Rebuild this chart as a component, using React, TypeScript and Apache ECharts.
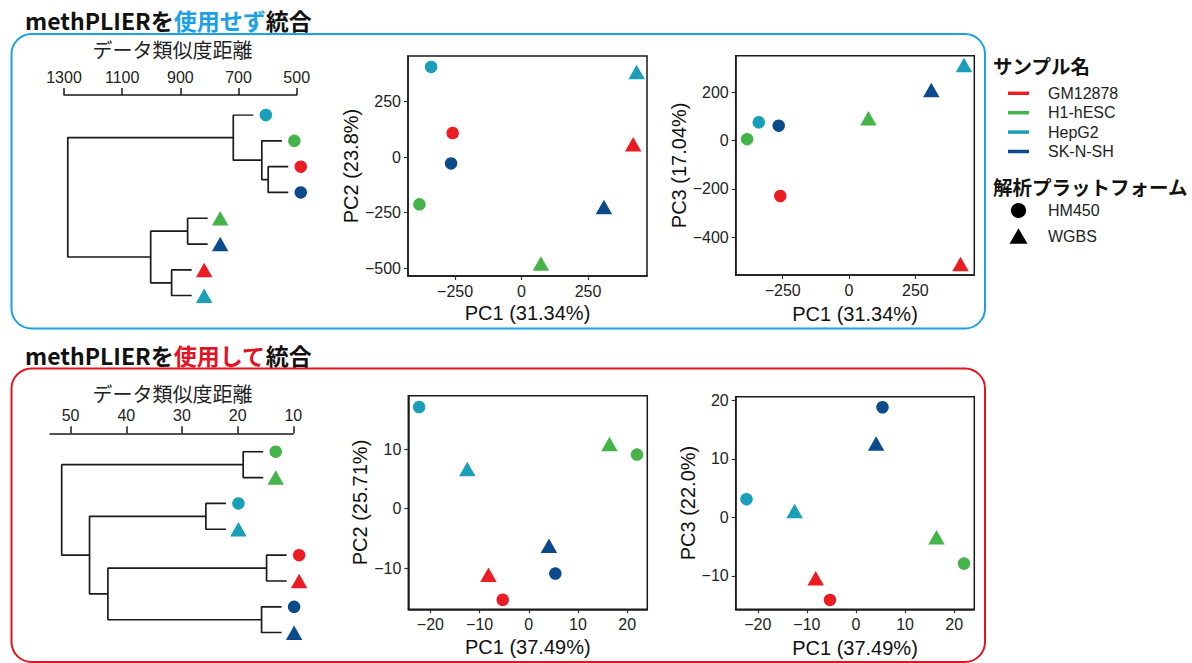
import React, { useEffect, useRef } from 'react';
import * as echarts from 'echarts';

// ---------- data ----------
const CELLS = ['GM12878', 'H1-hESC', 'HepG2', 'SK-N-SH'];
const CELL_COLORS = ['#ec1c24', '#44b449', '#1a9fb8', '#0b4a8b'];
const PLATFORMS = ['HM450', 'WGBS'];
// samples: GM-HM450, GM-WGBS, H1-HM450, H1-WGBS, HepG2-HM450, HepG2-WGBS, SK-HM450, SK-WGBS
const SAMPLE_CELL = [0, 0, 1, 1, 2, 2, 3, 3];
const SAMPLE_PLATFORM = [0, 1, 0, 1, 0, 1, 0, 1];

// without methPLIER
const RAW_PC1 = [-259, 420, -384, 73, -340, 433, -265, 310];
const RAW_PC2 = [109, 59, -212, -479, 407, 384, -28, -224];
const RAW_PC3 = [-229, -510, 6, 93, 76, 313, 62, 210];
const RAW_PC_NAMES = ['PC1 (31.34%)', 'PC2 (23.8%)', 'PC3 (17.04%)'];
const RAW_PC1_RANGE = [-427, 472];
const RAW_PC2_RANGE = [-535, 456];
const RAW_PC3_RANGE = [-556, 351.5];
const RAW_PC1_TICKS = [-250, 0, 250];
const RAW_PC2_TICKS = [-500, -250, 0, 250];
const RAW_PC3_TICKS = [-400, -200, 0, 200];
const RAW_LEAF_ORDER = [4, 2, 0, 6, 3, 7, 1, 5];
const RAW_MERGE = [[-1, -7], [-3, 1], [-5, 2], [-4, -8], [-2, -6], [4, 5], [3, 6]];
const RAW_HEIGHT = [598, 620, 718, 875, 930, 1002, 1287];
const RAW_HANG = 69;
const RAW_DIST_RANGE = [500, 1300];
const RAW_DIST_TICKS = [500, 700, 900, 1100, 1300];

// with methPLIER
const PLIER_PC1 = [-5.3, -8.2, 22.0, 16.4, -22.3, -12.5, 5.4, 4.1];
const PLIER_PC2 = [-15.3, -11.1, 9.1, 10.9, 17.1, 6.7, -10.9, -6.2];
const PLIER_PC3 = [-14.1, -10.4, -7.9, -3.4, 3.1, 1.1, 18.8, 12.6];
const PLIER_PC_NAMES = ['PC1 (37.49%)', 'PC2 (25.71%)', 'PC3 (22.0%)'];
const PLIER_PC1_RANGE = [-24.5, 24.1];
const PLIER_PC2_RANGE = [-16.9, 19.0];
const PLIER_PC3_RANGE = [-15.7, 20.6];
const PLIER_PC1_TICKS = [-20, -10, 0, 10, 20];
const PLIER_PC2_TICKS = [-10, 0, 10];
const PLIER_PC3_TICKS = [-10, 0, 10, 20];
const PLIER_LEAF_ORDER = [2, 3, 4, 5, 0, 1, 6, 7];
const PLIER_MERGE = [[-3, -4], [-5, -6], [-1, -2], [-7, -8], [3, 4], [2, 5], [1, 6]];
const PLIER_HEIGHT = [19.0, 25.7, 14.8, 15.7, 43.3, 46.6, 51.6];
const PLIER_HANG = 3.6;
const PLIER_DIST_RANGE = [10, 53.7];
const PLIER_DIST_TICKS = [10, 20, 30, 40, 50];

const TITLES = [
  ['methPLIERを', '使用せず', '統合'],
  ['methPLIERを', '使用して', '統合'],
];
const DIST_TITLE = 'データ類似度距離';
const LEGEND_CELL_TITLE = 'サンプル名';
const LEGEND_PLATFORM_TITLE = '解析プラットフォーム';

// ---------- styles ----------
const BLUE = '#1ba1e4';
const RED = '#e3131f';
const INK = '#1a1a1a';
const FONT = "'Liberation Sans', Arial, sans-serif";
const JP = "'Noto Sans CJK JP', 'Noto Sans', sans-serif";
const SYMBOLS = ['circle', 'triangle'];
const SYMBOL_SIZES: any[] = [12.5, [16.5, 14.5]];

const fmt = (v: number) => String(v).replace('-', '\u2212');

function scatterData(xs: number[], ys: number[]) {
  return xs.map((x, i) => ({
    value: [x, ys[i]],
    symbol: SYMBOLS[SAMPLE_PLATFORM[i]],
    symbolSize: SYMBOL_SIZES[SAMPLE_PLATFORM[i]],
    itemStyle: { color: CELL_COLORS[SAMPLE_CELL[i]], opacity: 1 },
  }));
}

function buildDendro(order: number[], merge: number[][], heights: number[], hang: number) {
  const nodes: { y: number; h: number }[] = [];
  const segs: number[][][] = [];
  const leaves: { s: number; h: number; y: number }[] = [];
  merge.forEach(([a, b], k) => {
    const h = heights[k];
    const info = (ref: number) => {
      if (ref < 0) {
        const s = -ref - 1;
        const y = order.indexOf(s);
        leaves.push({ s, h: h - hang, y });
        return { y, h: h - hang };
      }
      return nodes[ref - 1];
    };
    const A = info(a);
    const B = info(b);
    segs.push([[A.h, A.y], [h, A.y], [h, B.y], [B.h, B.y]]);
    nodes.push({ y: (A.y + B.y) / 2, h });
  });
  return { segs, leaves };
}

function dendroSeries(d: ReturnType<typeof buildDendro>, axisIndex: number) {
  const out: any[] = d.segs.map((seg) => ({
    type: 'line',
    xAxisIndex: axisIndex,
    yAxisIndex: axisIndex,
    data: seg,
    symbol: 'none',
    silent: true,
    lineStyle: { color: INK, width: 1.7 },
  }));
  out.push({
    type: 'scatter',
    xAxisIndex: axisIndex,
    yAxisIndex: axisIndex,
    symbolOffset: [12.5, 0],
    silent: true,
    data: d.leaves.map((l) => ({
      value: [l.h, l.y],
      symbol: SYMBOLS[SAMPLE_PLATFORM[l.s]],
      symbolSize: SYMBOL_SIZES[SAMPLE_PLATFORM[l.s]],
      itemStyle: { color: CELL_COLORS[SAMPLE_CELL[l.s]], opacity: 1 },
    })),
  });
  return out;
}

function dendroX(gridIndex: number, range: number[], ticks: number[], offset: number) {
  return {
    type: 'value', gridIndex, min: range[0], max: range[1], inverse: true, position: 'top', offset,
    axisLine: { show: true, onZero: false, lineStyle: { color: INK, width: 1.5 } },
    axisTick: { show: true, inside: false, length: 7, customValues: ticks, lineStyle: { color: INK, width: 1.5 } },
    axisLabel: { customValues: ticks, formatter: (v: number) => String(v), fontSize: 16, color: '#222', margin: 10, fontFamily: FONT },
    splitLine: { show: false },
  };
}
function dendroY(gridIndex: number) {
  return { type: 'value', gridIndex, min: 0, max: 7, inverse: true, show: false, splitLine: { show: false } };
}
function pcaAxis(gridIndex: number, range: number[], ticks: number[], name: string, gap: number) {
  return {
    type: 'value', gridIndex, min: range[0], max: range[1], name, nameLocation: 'middle', nameGap: gap,
    nameTextStyle: { fontSize: 20, color: '#111', fontFamily: FONT },
    axisLine: { show: true, onZero: false, lineStyle: { color: INK, width: 1.5 } },
    axisTick: { show: true, length: 4, customValues: ticks, lineStyle: { color: '#333', width: 1.2 } },
    axisLabel: { customValues: ticks, formatter: fmt, fontSize: 16, color: '#222', margin: 7, fontFamily: FONT },
    splitLine: { show: false },
  };
}
function pcaScatter(axisIndex: number, xs: number[], ys: number[]) {
  return { type: 'scatter', xAxisIndex: axisIndex, yAxisIndex: axisIndex, silent: true, data: scatterData(xs, ys) };
}

function titleText(x: number, y: number, parts: string[], color: string) {
  const base = { fontSize: 23, fontWeight: 'bold', fontFamily: JP };
  return {
    type: 'text', x, y,
    style: {
      text: `{a|${parts[0]}}{b|${parts[1]}}{a|${parts[2]}}`,
      verticalAlign: 'middle',
      rich: { a: { ...base, fill: '#111', color: '#111' }, b: { ...base, fill: color, color } },
    },
  };
}

function buildOption() {
  const rawD = buildDendro(RAW_LEAF_ORDER, RAW_MERGE, RAW_HEIGHT, RAW_HANG);
  const plierD = buildDendro(PLIER_LEAF_ORDER, PLIER_MERGE, PLIER_HEIGHT, PLIER_HANG);
  const pcaGrid = { show: true, borderColor: INK, borderWidth: 1.5, backgroundColor: 'transparent' };

  const graphic: any[] = [
    { type: 'rect', shape: { x: 11.5, y: 34, width: 973.5, height: 294.5, r: 20 }, style: { fill: 'none', stroke: BLUE, lineWidth: 2 } },
    { type: 'rect', shape: { x: 11.5, y: 368.5, width: 973.5, height: 293.5, r: 20 }, style: { fill: 'none', stroke: RED, lineWidth: 2 } },
    titleText(25, 20, TITLES[0], BLUE),
    titleText(25, 355, TITLES[1], RED),
    { type: 'text', x: 172.5, y: 49.5, style: { text: DIST_TITLE, fontSize: 20, fontFamily: JP, fill: '#222', align: 'center', verticalAlign: 'middle' } },
    { type: 'text', x: 172.5, y: 393, style: { text: DIST_TITLE, fontSize: 20, fontFamily: JP, fill: '#222', align: 'center', verticalAlign: 'middle' } },
    { type: 'text', x: 993, y: 65, style: { text: LEGEND_CELL_TITLE, fontSize: 19.5, fontWeight: 'bold', fontFamily: JP, fill: '#111', verticalAlign: 'middle' } },
    { type: 'text', x: 993, y: 186, style: { text: LEGEND_PLATFORM_TITLE, fontSize: 19.5, fontWeight: 'bold', fontFamily: JP, fill: '#111', verticalAlign: 'middle' } },
  ];
  CELLS.forEach((c, i) => {
    const y = 93.3 + i * 19.4;
    graphic.push({ type: 'line', shape: { x1: 1008, y1: y, x2: 1029, y2: y }, style: { stroke: CELL_COLORS[i], lineWidth: 3.5 } });
    graphic.push({ type: 'text', x: 1048, y, style: { text: c, fontSize: 16, fontFamily: FONT, fill: '#222', verticalAlign: 'middle' } });
  });
  PLATFORMS.forEach((p, i) => {
    const y = 210.5 + i * 25.5;
    if (i === 0) {
      graphic.push({ type: 'circle', shape: { cx: 1018.5, cy: y, r: 7.6 }, style: { fill: '#000' } });
    } else {
      graphic.push({ type: 'polygon', shape: { points: [[1009.5, y + 7.7], [1018.5, y - 7.7], [1027.5, y + 7.7]] }, style: { fill: '#000' } });
    }
    graphic.push({ type: 'text', x: 1048, y, style: { text: p, fontSize: 16, fontFamily: FONT, fill: '#222', verticalAlign: 'middle' } });
  });

  return {
    animation: false,
    backgroundColor: '#fff',
    grid: [
      { left: 64, top: 115, width: 232.7, height: 180.7 },
      { left: 408, top: 56, width: 239, height: 220, ...pcaGrid },
      { left: 735.7, top: 55.7, width: 238.6, height: 219.3, ...pcaGrid },
      { left: 50, top: 451.7, width: 243.3, height: 181 },
      { left: 408.3, top: 395.7, width: 239, height: 213.6, ...pcaGrid },
      { left: 735.7, top: 396.7, width: 238.6, height: 212.6, ...pcaGrid },
    ],
    xAxis: [
      dendroX(0, RAW_DIST_RANGE, RAW_DIST_TICKS, 20),
      pcaAxis(1, RAW_PC1_RANGE, RAW_PC1_TICKS, RAW_PC_NAMES[0], 27),
      pcaAxis(2, RAW_PC1_RANGE, RAW_PC1_TICKS, RAW_PC_NAMES[0], 29),
      dendroX(3, PLIER_DIST_RANGE, PLIER_DIST_TICKS, 18.4),
      pcaAxis(4, PLIER_PC1_RANGE, PLIER_PC1_TICKS, PLIER_PC_NAMES[0], 28),
      pcaAxis(5, PLIER_PC1_RANGE, PLIER_PC1_TICKS, PLIER_PC_NAMES[0], 29),
    ],
    yAxis: [
      dendroY(0),
      pcaAxis(1, RAW_PC2_RANGE, RAW_PC2_TICKS, RAW_PC_NAMES[1], 46),
      pcaAxis(2, RAW_PC3_RANGE, RAW_PC3_TICKS, RAW_PC_NAMES[2], 46),
      dendroY(3),
      pcaAxis(4, PLIER_PC2_RANGE, PLIER_PC2_TICKS, PLIER_PC_NAMES[1], 38),
      pcaAxis(5, PLIER_PC3_RANGE, PLIER_PC3_TICKS, PLIER_PC_NAMES[2], 33),
    ],
    series: [
      ...dendroSeries(rawD, 0),
      pcaScatter(1, RAW_PC1, RAW_PC2),
      pcaScatter(2, RAW_PC1, RAW_PC3),
      ...dendroSeries(plierD, 3),
      pcaScatter(4, PLIER_PC1, PLIER_PC2),
      pcaScatter(5, PLIER_PC1, PLIER_PC3),
    ],
    graphic,
  };
}

export default function App() {
  const ref = useRef<HTMLDivElement>(null);
  useEffect(() => {
    document.body.style.margin = '0';
    if (!ref.current) return;
    const chart = echarts.init(ref.current, undefined, { renderer: 'svg' });
    chart.setOption(buildOption() as any);
    return () => chart.dispose();
  }, []);
  return <div ref={ref} style={{ position: 'absolute', left: 0, top: 0, width: 1192, height: 663 }} />;
}
